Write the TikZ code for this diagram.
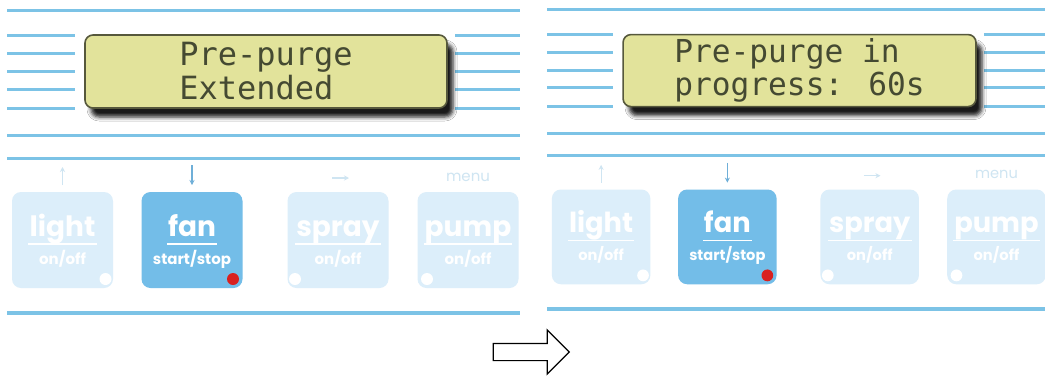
\documentclass[tikz,border=0pt]{standalone}
\usepackage{fontspec}
\usepackage{xcolor}
\usepackage{tikz}
\usetikzlibrary{arrows.meta,shapes.arrows,shadows.blur}

\newfontfamily\lcdfont{DejaVu Sans Mono}
\newfontfamily\keyfont{Poppins}

\definecolor{railblue}{HTML}{7CC3E6}
\definecolor{lcdfill}{HTML}{E2E39B}
\definecolor{lcdedge}{HTML}{56583C}
\definecolor{lcdink}{HTML}{454A32}
\definecolor{keyblue}{HTML}{73BDE8}
\definecolor{keyfade}{HTML}{DCEEFA}
\definecolor{markfade}{HTML}{CFE5F2}
\definecolor{markblue}{HTML}{6FAFD8}
\definecolor{dotred}{HTML}{D9201F}

\begin{document}
\begin{tikzpicture}[x=1pt,y=-1pt,
		rail/.style={draw=railblue, line width=3pt},
		lcd/.style={draw=lcdedge, line width=1.6pt, fill=lcdfill, rounded corners=8pt,
			minimum width=362pt, minimum height=73pt, align=left, text=lcdink,
			font=\lcdfont\fontsize{32}{34}\selectfont,
			blur shadow={shadow xshift=6pt, shadow yshift=-9pt, shadow blur radius=4pt, shadow opacity=90}},
		key/.style={rounded corners=9pt, minimum width=101pt, minimum height=96pt},
		keyword/.style={anchor=base, text=white, inner sep=1pt, font=\keyfont\bfseries\fontsize{28}{30}\selectfont},
		keysub/.style={anchor=base, text=white, inner sep=0pt, font=\keyfont\bfseries\fontsize{15}{18}\selectfont},
		hint/.style={draw=markfade, line width=1.2pt, -{Stealth[length=5pt,width=5pt]}},
		menulabel/.style={text=markfade, font=\keyfont\fontsize{15}{16}\selectfont},
		nextarrow/.style={draw, line width=1.2pt, single arrow, single arrow head extend=13.5pt,
			single arrow tip angle=90, minimum height=76pt, inner xsep=0pt, inner ysep=8pt}]
		\fill[white] (0,0) rectangle (1045,376);
		\useasboundingbox (0,0) rectangle (1045,376);
		
		\foreach \p/\px/\sx/\sy/\msg in {1/7/1/1/{Pre-purge\\Extended}, 2/547/0.975/0.987/{Pre-purge in\\progress: 60s}}{
			\begin{scope}[shift={(\px,0)}, xscale=\sx, yscale=\sy, transform shape]
				\draw[rail] (0,10) -- (513,10);
				\foreach \y in {35,53,71,89,108}{
					\draw[rail] (0,\y) -- (68,\y);
					\draw[rail] (448,\y) -- (513,\y);
				}
				\draw[rail] (0,135) -- (513,135);
				\draw[rail] (0,158) -- (513,158);
				\draw[rail, line width=3.5pt] (0,313) -- (513,313);
				
				\node[lcd] (lcd\p) at (259,71.5) {\msg};
				
				\foreach \k/\cx/\fc/\sub/\dotx/\dc in {light/55.5/keyfade/{on/off}/98.5/white,
					fan/185/keyblue/{start/stop}/226/dotred,
					spray/331/keyfade/{on/off}/288/white,
					pump/461/keyfade/{on/off}/420/white}{
					\node[key, fill=\fc] (\k\p) at (\cx,240) {};
					\node[keyword] (\k word\p) at (\cx,236) {\k};
					\draw[white, line width=1.3pt] ([yshift=-8pt]\k word\p.base west) -- ([yshift=-8pt]\k word\p.base east);
					\node[keysub] (\k sub\p) at (\cx,264) {\sub};
					\fill[\dc] (\dotx,279) circle (6pt);
				}
				
				\draw[hint] (55.5,185) -- (55.5,167);
				\draw[hint, draw=markblue] (185,165) -- (185,185);
				\draw[hint] (325,178) -- (342,178);
				\node[menulabel] (menu\p) at (461,177) {menu};
			\end{scope}
		}
		
		\node[nextarrow] (next) at (527,352) {};
	\end{tikzpicture}
\end{document}
